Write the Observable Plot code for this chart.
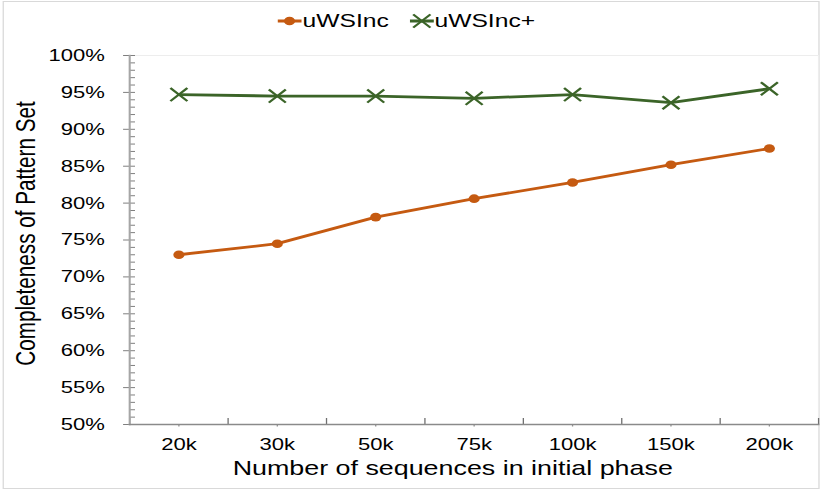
<!DOCTYPE html>
<html>
<head>
<meta charset="utf-8">
<script src="https://cdn.jsdelivr.net/npm/d3@7"></script>
<script src="https://cdn.jsdelivr.net/npm/@observablehq/plot@0.6"></script>
<style>
  html, body { margin: 0; padding: 0; background: #fff; overflow: hidden; }
  #stage { position: relative; width: 640px; height: 498px; transform: scaleX(1.296875); transform-origin: 0 0; font-family: "Liberation Sans", Arial, sans-serif; }
  #border { position: absolute; left: 1.5px; top: 1px; width: 630.7px; height: 488px; box-sizing: border-box; border: 1px solid #d9d9d9; }
  #legend { position: absolute; left: 0; top: 0; width: 640px; height: 38px; }
  .item { position: absolute; top: 9px; height: 24px; display: flex; align-items: center; font-size: 19px; color: #000; }
  .item svg { margin-right: 0.5px; }
  #chart { position: absolute; left: 0; top: 38px; }
</style>
</head>
<body>
<div id="stage">
  <div id="border"></div>
  <div id="legend"></div>
  <div id="chart"></div>
</div>
<script>
const categories = ["20k", "30k", "50k", "75k", "100k", "150k", "200k"];
const uWSInc = [73.0, 74.5, 78.1, 80.6, 82.8, 85.2, 87.4];
const uWSIncPlus = [94.7, 94.5, 94.5, 94.2, 94.7, 93.6, 95.5];
const yTicks = [50, 55, 60, 65, 70, 75, 80, 85, 90, 95, 100];
const seriesNames = ["uWSInc", "uWSInc+"];
const seriesColors = ["#c55a11", "#3b6428"];
const xTitle = "Number of sequences in initial phase";
const yTitle = "Completeness of Pattern Set";

const rows = [];
categories.forEach((c, i) => {
  rows.push({i, v: uWSInc[i], s: seriesNames[0]});
  rows.push({i, v: uWSIncPlus[i], s: seriesNames[1]});
});
const A = rows.filter(d => d.s === seriesNames[0]);
const B = rows.filter(d => d.s === seriesNames[1]);
const minorTicks = d3.range(50, 100.001, 1);
const boundaries = d3.range(-0.5, categories.length, 1);

const chart = Plot.plot({
  width: 640,
  height: 460,
  marginTop: 17,
  marginBottom: 74,
  marginLeft: 99.5,
  marginRight: 9.3,
  style: {fontFamily: "'Liberation Sans', Arial, sans-serif", background: "transparent", color: "#000"},
  x: {type: "linear", domain: [-0.5, categories.length - 0.5]},
  y: {domain: [50, 100]},
  marks: [
    Plot.frame({stroke: "#ededed"}),
    Plot.axisY({ticks: minorTicks, tickSize: -4.6, tickFormat: () => "", label: null, stroke: "#7f7f7f"}),
    Plot.axisY({ticks: yTicks, tickSize: 4.6, tickPadding: 14.5, tickFormat: d => d + "%", label: null, fontSize: 17, stroke: "#7f7f7f", fill: "#000"}),
    Plot.axisX({ticks: boundaries, tickSize: -6, tickFormat: () => "", label: null, stroke: "#6f6f6f"}),
    Plot.axisX({ticks: d3.range(categories.length), tickSize: 2.5, tickPadding: 10.5, tickFormat: i => categories[i], label: null, fontSize: 17, stroke: "#8f8f8f", fill: "#000"}),
    Plot.frame({anchor: "left", stroke: "#a6a6a6", strokeWidth: 1.6}),
    Plot.frame({anchor: "bottom", stroke: "#8a8a8a", strokeWidth: 1.4}),
    Plot.line(A, {x: "i", y: "v", stroke: seriesColors[0], strokeWidth: 2.8}),
    Plot.dot(A, {x: "i", y: "v", r: 4.3, fill: seriesColors[0], stroke: "none"}),
    Plot.line(B, {x: "i", y: "v", stroke: seriesColors[1], strokeWidth: 2.8}),
    Plot.dot(B, {x: "i", y: "v", r: 6, symbol: "times", stroke: seriesColors[1], strokeWidth: 2}),
    Plot.text([xTitle], {frameAnchor: "bottom", textAnchor: "middle", lineAnchor: "top", dy: 35.3, dx: -16.5, fontSize: 20.7, fill: "#000"}),
    Plot.text([yTitle], {frameAnchor: "left", textAnchor: "middle", rotate: -90, lineAnchor: "middle", dx: -80, dy: -6.5, fontSize: 20.7, fill: "#000"})
  ]
});
document.getElementById("chart").appendChild(chart);

// legend
const legend = document.getElementById("legend");
const lefts = [214.3, 316];
seriesNames.forEach((name, k) => {
  const div = document.createElement("div");
  div.className = "item";
  div.style.left = lefts[k] + "px";
  const ns = "http://www.w3.org/2000/svg";
  const s = document.createElementNS(ns, "svg");
  s.setAttribute("width", 18.5);
  s.setAttribute("height", 24);
  const ln = document.createElementNS(ns, "line");
  ln.setAttribute("x1", 0); ln.setAttribute("x2", 18.5);
  ln.setAttribute("y1", 12); ln.setAttribute("y2", 12);
  ln.setAttribute("stroke", seriesColors[k]); ln.setAttribute("stroke-width", 2.8);
  s.appendChild(ln);
  if (k === 0) {
    const c = document.createElementNS(ns, "circle");
    c.setAttribute("cx", 9.25); c.setAttribute("cy", 12); c.setAttribute("r", 4.3);
    c.setAttribute("fill", seriesColors[k]);
    s.appendChild(c);
  } else {
    const p = document.createElementNS(ns, "path");
    p.setAttribute("d", "M2.6,5.4L15.9,18.6M2.6,18.6L15.9,5.4");
    p.setAttribute("stroke", seriesColors[k]); p.setAttribute("stroke-width", 2);
    s.appendChild(p);
  }
  div.appendChild(s);
  const t = document.createElement("span");
  t.textContent = name;
  div.appendChild(t);
  legend.appendChild(div);
});
</script>
</body>
</html>
